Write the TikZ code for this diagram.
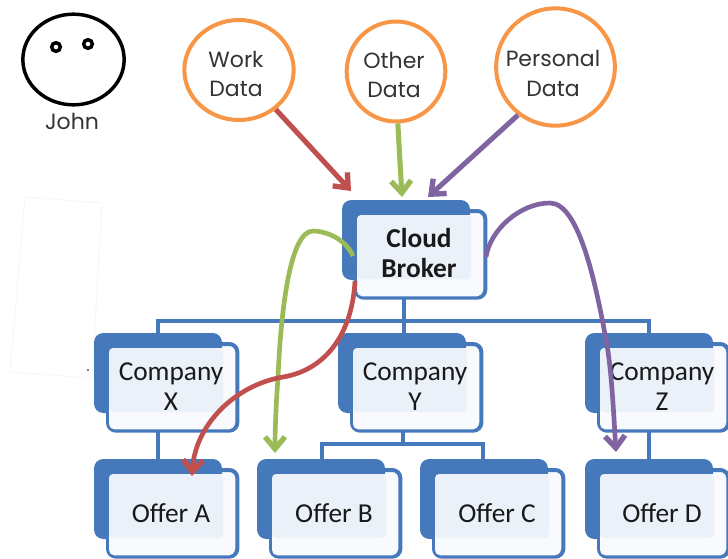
\documentclass[tikz,border=0pt]{standalone}
\usepackage{fontspec}
\setmainfont{Carlito}
\newfontfamily\thinfont{Poppins}
\usetikzlibrary{arrows.meta,calc,shapes.geometric}
\definecolor{bluemain}{HTML}{4679BB}
\definecolor{shade}{HTML}{EBF1F9}
\definecolor{pale}{HTML}{F8FAFD}
\definecolor{ringor}{HTML}{F79646}
\definecolor{redarrow}{HTML}{C0504D}
\definecolor{greenarrow}{HTML}{9BBB59}
\definecolor{purplearrow}{HTML}{8064A2}
\tikzset{
  darkbox/.style={anchor=north west,fill=bluemain,rounded corners=7pt,minimum width=96pt,minimum height=60pt,inner sep=0pt,outer sep=0pt},
  outlinebox/.style={anchor=north west,draw=bluemain,line width=3pt,fill=pale,rounded corners=6pt,minimum width=97pt,minimum height=65pt,inner sep=0pt,outer sep=0pt},
  panelbox/.style={anchor=north west,fill=pale,rounded corners=4pt,minimum width=94pt,minimum height=61pt,inner sep=0pt,outer sep=0pt},
  shadebox/.style={anchor=north west,fill=shade,rounded corners=3pt,minimum width=85.5pt,minimum height=48pt,inner sep=0pt,outer sep=0pt},
  boxlabel/.style={font=\fontsize{20.5}{22.5}\selectfont,align=center,text=black!90,inner sep=0pt},
  treeline/.style={draw=bluemain,line width=2.6pt},
  ring/.style={ellipse,draw=ringor,line width=3pt,fill=white,inner sep=0pt},
  ringtext/.style={font=\thinfont\fontsize{16.5}{22}\selectfont,align=center,text=black!80,inner sep=0pt},
  flow/.style={line width=3.8pt,-{Straight Barb[length=9pt,width=15pt,line width=4pt]}},
  flowcurve/.style={line width=3.5pt,-{Straight Barb[length=9pt,width=15pt,line width=4pt]}},
}
\newcommand{\orgbox}[5]{%
  \begin{scope}[shift={(#2,#3)}]
    \node[outlinebox] (#1-o) at (14,11) {};
    \node[darkbox] (#1-b) at (0,0) {};
    \node[panelbox] (#1-p) at (15,15) {};
    \node[shadebox] (#1-s) at (15,15) {};
    \node[boxlabel] (#1) at (77,#4) {#5};
  \end{scope}}
\begin{document}
\begin{tikzpicture}[x=0.75pt,y=-0.75pt]
\path[use as bounding box,clip] (0,0) rectangle (728,558);
% faint patch and speck
\coordinate (p1) at (25,197);
\coordinate (p2) at (102,203);
\coordinate (p3) at (92,378);
\coordinate (p4) at (10,372);
\draw[black!3,line width=0.8pt] (p1) -- (p2) -- (p3) -- (p4) -- cycle;
\fill[black!70] (88,370) circle (0.8pt);
% John
\node[ellipse,draw=black,line width=2.6pt,minimum width=76pt,minimum height=68pt,inner sep=0pt] (john) at (73.5,59.5) {};
\node[circle,draw=black,line width=2.6pt,minimum size=6.5pt,inner sep=0pt] (eyea) at (56,47) {};
\node[circle,draw=black,line width=2.6pt,minimum size=6.5pt,inner sep=0pt] (eyeb) at (88,44) {};
\node[ringtext] (johnlabel) at (72,121) {John};
% Data sources
\node[ring,minimum width=82pt,minimum height=75pt] (work) at (239,70) {};
\node[ring,minimum width=74pt,minimum height=75pt] (other) at (396,71.5) {};
\node[ring,minimum width=89pt,minimum height=88pt] (personal) at (555.5,67) {};
\node[ringtext] (worktext) at (236,74) {Work\\Data};
\node[ringtext] (othertext) at (394,75) {Other\\Data};
\node[ringtext] (personaltext) at (553,73.5) {Personal\\Data};
% Boxes
\orgbox{cloud}{342}{200}{53}{\textbf{Cloud}\\\textbf{Broker}}
\orgbox{cx}{94}{333}{54}{Company\\X}
\orgbox{cy}{338}{333}{54}{Company\\Y}
\orgbox{cz}{585}{333}{54}{Company\\Z}
\orgbox{oa}{94}{459}{54}{Offer A}
\orgbox{ob}{257}{459}{54}{Offer B}
\orgbox{oc}{420}{459}{54}{Offer C}
\orgbox{od}{585}{459}{54}{Offer D}
% Tree
\coordinate (bus) at (404,321);
\coordinate (busb) at (403,444);
\draw[treeline] (cx-b.north) |- (bus) -| (cz-b.north);
\draw[treeline] (bus |- cloud-o.south) -- (bus) -- (bus |- cy-b.north);
\draw[treeline] (cx-o.south -| oa-b.north) -- (oa-b.north);
\draw[treeline] (cz-o.south -| od-b.north) -- (od-b.north);
\draw[treeline] (busb |- cy-o.south) -- (busb);
\draw[treeline] (ob-b.north -| 322,0) |- (busb) -| (oc-b.north -| 483,0);
% Input arrows
\coordinate (workend) at (351,191);
\coordinate (otherend) at (402,197);
\coordinate (personalend) at (428,197);
\draw[flow,draw=redarrow] (work.-47) -- (workend);
\draw[flow,draw=greenarrow] (other.-88) -- (otherend);
\draw[flow,draw=purplearrow] (personal.-128) -- (personalend);
% Curves
\coordinate (gs) at (353,256);
\coordinate (gm) at (278,377);
\coordinate (ge) at (275,453);
\coordinate (rs) at (355,281);
\coordinate (rm) at (283,377);
\coordinate (re) at (192,476);
\coordinate (ps) at (486,257);
\coordinate (pm) at (607,345);
\coordinate (pe) at (616,452);
\draw[flowcurve,draw=greenarrow] (gs) .. controls (345,238) and (325,231) .. (313,231) .. controls (290,231) and (281,310) .. (gm) .. controls (276,405) and (275,430) .. (ge);
\draw[flowcurve,draw=redarrow] (rs) .. controls (352,335) and (325,370) .. (rm) .. controls (235,385) and (195,425) .. (re);
\draw[flowcurve,draw=purplearrow] (ps) .. controls (490,230) and (520,203) .. (550,203) .. controls (580,203) and (597,290) .. (pm) .. controls (612,375) and (614,420) .. (pe);
\end{tikzpicture}
\end{document}
